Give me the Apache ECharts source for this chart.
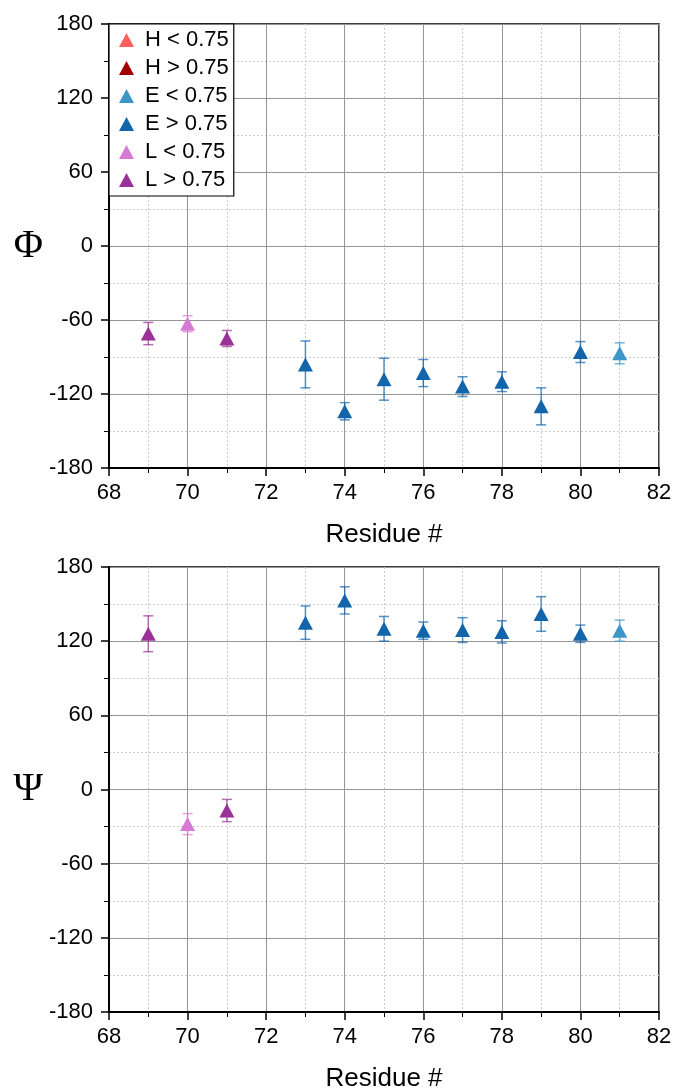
<!DOCTYPE html>
<html>
<head>
<meta charset="utf-8">
<title>Backbone dihedral angles by residue</title>
<script src="https://cdn.jsdelivr.net/npm/echarts@6/dist/echarts.min.js"></script>
<style>
  html, body { margin: 0; padding: 0; background: #fff; }
  #chart { width: 675px; height: 1088px; }
</style>
</head>
<body>
<div id="chart"></div>
<script>
// Residue numbers and their secondary-structure class / confidence
const residues = [69, 70, 71, 73, 74, 75, 76, 77, 78, 79, 80, 81];
const residueClass = ['L > 0.75', 'L < 0.75', 'L > 0.75', 'E > 0.75', 'E > 0.75', 'E > 0.75',
                      'E > 0.75', 'E > 0.75', 'E > 0.75', 'E > 0.75', 'E > 0.75', 'E < 0.75'];

// Phi angle (degrees) and its spread
const phi    = [-71, -63, -75, -96, -134, -108, -103, -114, -110, -130, -86, -87];
const phiErr = [9, 6.5, 6.5, 19, 7, 17, 11, 8, 8, 15, 8.5, 8.5];

// Psi angle (degrees) and its spread
const psi    = [126, -28, -17, 135, 153, 130, 128.5, 129, 127.5, 142, 126, 128.5];
const psiErr = [14.5, 8.5, 9, 13.5, 11, 10, 7, 10, 9, 14, 7, 8.5];

// Legend entries
const classNames = ['H < 0.75', 'H > 0.75', 'E < 0.75', 'E > 0.75', 'L < 0.75', 'L > 0.75'];

// Axis ranges and ticks
const xRange = [68, 82];
const xStep = 2;
const angleRange = [-180, 180];
const angleStep = 60;

// ---- styling ----
const palette = {
  'H < 0.75': '#ff5f5f',
  'H > 0.75': '#a30000',
  'E < 0.75': '#3d96c8',
  'E > 0.75': '#1264ab',
  'L < 0.75': '#d77ad4',
  'L > 0.75': '#9a3198'
};
const sansFont = '"Liberation Sans", Arial, Helvetica, sans-serif';
const serifFont = '"Liberation Serif", "Times New Roman", serif';

const chart = echarts.init(document.getElementById('chart'), null, { renderer: 'canvas' });

function errorBarItem(color) {
  return function (params, api) {
    const x = api.value(0), v = api.value(1), e = api.value(2);
    const hi = api.coord([x, v + e]);
    const lo = api.coord([x, v - e]);
    const cap = 5;
    const style = { stroke: color, lineWidth: 1.5, opacity: 0.7 };
    return {
      type: 'group',
      children: [
        { type: 'line', shape: { x1: hi[0], y1: hi[1], x2: lo[0], y2: lo[1] }, style: style },
        { type: 'line', shape: { x1: hi[0] - cap, y1: hi[1], x2: hi[0] + cap, y2: hi[1] }, style: style },
        { type: 'line', shape: { x1: lo[0] - cap, y1: lo[1], x2: lo[0] + cap, y2: lo[1] }, style: style }
      ]
    };
  };
}

function panelSeries(panel, values, errors) {
  const out = [];
  classNames.forEach(function (cls) {
    const pts = [];
    const bars = [];
    residues.forEach(function (r, i) {
      if (residueClass[i] === cls) {
        pts.push([r, values[i]]);
        bars.push([r, values[i], errors[i]]);
      }
    });
    out.push({
      name: 'bars ' + cls + ' ' + panel,
      type: 'custom',
      xAxisIndex: panel, yAxisIndex: panel,
      renderItem: errorBarItem(palette[cls]),
      data: bars,
      encode: { x: 0, y: 1 },
      z: 2,
      silent: true
    });
    out.push({
      name: cls,
      type: 'scatter',
      xAxisIndex: panel, yAxisIndex: panel,
      symbol: 'triangle',
      symbolSize: [15, 14],
      itemStyle: { color: palette[cls], opacity: 1 },
      data: pts,
      z: 3
    });
  });
  return out;
}

function xAxisFor(panel) {
  return {
    type: 'value', gridIndex: panel,
    min: xRange[0], max: xRange[1], interval: xStep,
    axisLine: { show: true, onZero: false, lineStyle: { color: '#000', width: 2 } },
    axisTick: { show: true, inside: false, length: 8, lineStyle: { color: '#000', width: 1.5 } },
    minorTick: { show: true, splitNumber: 2, length: 5, lineStyle: { color: '#000', width: 1 } },
    splitLine: { show: true, lineStyle: { color: '#959595', width: 1 } },
    minorSplitLine: { show: true, lineStyle: { color: '#cccccc', width: 1, type: [2, 2] } },
    axisLabel: { color: '#000', fontSize: 22, margin: 14, fontFamily: sansFont, showMinLabel: true, showMaxLabel: true },
    name: 'Residue #', nameLocation: 'middle', nameGap: 54,
    nameTextStyle: { color: '#000', fontSize: 26, fontFamily: sansFont }
  };
}

function yAxisFor(panel, symbol) {
  return {
    type: 'value', gridIndex: panel,
    min: angleRange[0], max: angleRange[1], interval: angleStep,
    axisLine: { show: true, onZero: false, lineStyle: { color: '#000', width: 2 } },
    axisTick: { show: true, inside: false, length: 8, lineStyle: { color: '#000', width: 1.5 } },
    minorTick: { show: true, splitNumber: 2, length: 5, lineStyle: { color: '#000', width: 1 } },
    splitLine: { show: true, lineStyle: { color: '#959595', width: 1 } },
    minorSplitLine: { show: true, lineStyle: { color: '#cccccc', width: 1, type: [2, 2] } },
    axisLabel: { color: '#000', fontSize: 22, margin: 16, fontFamily: sansFont, showMinLabel: true, showMaxLabel: true },
    name: symbol, nameLocation: 'middle', nameRotate: 0, nameGap: 66,
    nameTextStyle: { color: '#000', fontSize: 40, fontFamily: serifFont }
  };
}

const option = {
  backgroundColor: '#fff',
  animation: false,
  grid: [
    { left: 109, right: 16, top: 24, height: 444, outerBoundsMode: 'none', containLabel: false,
      show: true, borderColor: '#000', borderWidth: 1.5, backgroundColor: 'transparent' },
    { left: 109, right: 16, top: 567, height: 445, outerBoundsMode: 'none', containLabel: false,
      show: true, borderColor: '#000', borderWidth: 1.5, backgroundColor: 'transparent' }
  ],
  xAxis: [xAxisFor(0), xAxisFor(1)],
  yAxis: [yAxisFor(0, 'Φ'), yAxisFor(1, 'Ψ')],
  legend: {
    data: classNames.map(function (n) { return { name: n, icon: 'triangle' }; }),
    orient: 'vertical',
    left: 109, top: 24,
    padding: [5, 5, 5, 10],
    itemWidth: 15, itemHeight: 14,
    itemGap: 6,
    borderColor: '#000', borderWidth: 1.2,
    backgroundColor: '#fff',
    selectedMode: false,
    textStyle: { color: '#000', fontSize: 22, fontFamily: sansFont, padding: [0, 0, 0, 6] },
    z: 10
  },
  series: [].concat(panelSeries(0, phi, phiErr), panelSeries(1, psi, psiErr))
};

chart.setOption(option);
</script>
</body>
</html>
